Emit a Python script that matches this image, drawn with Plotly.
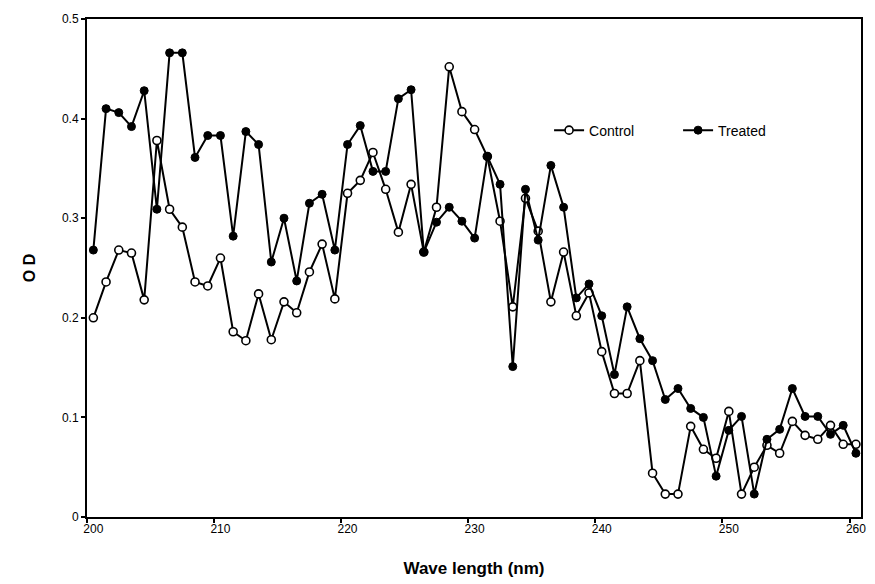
import plotly.graph_objects as go

wavelength = list(range(200, 261))
control = [0.200, 0.236, 0.268, 0.265, 0.218, 0.378, 0.309, 0.291, 0.236, 0.232,
           0.260, 0.186, 0.177, 0.224, 0.178, 0.216, 0.205, 0.246, 0.274, 0.219,
           0.325, 0.338, 0.366, 0.329, 0.286, 0.334, 0.266, 0.311, 0.452, 0.407,
           0.389, 0.362, 0.297, 0.211, 0.320, 0.287, 0.216, 0.266, 0.202, 0.225,
           0.166, 0.124, 0.124, 0.157, 0.044, 0.023, 0.023, 0.091, 0.068, 0.059,
           0.106, 0.023, 0.050, 0.072, 0.064, 0.096, 0.082, 0.078, 0.092, 0.073, 0.073]
treated = [0.268, 0.410, 0.406, 0.392, 0.428, 0.309, 0.466, 0.466, 0.361, 0.383,
           0.383, 0.282, 0.387, 0.374, 0.256, 0.300, 0.237, 0.315, 0.324, 0.268,
           0.374, 0.393, 0.347, 0.347, 0.420, 0.429, 0.266, 0.296, 0.311, 0.297,
           0.280, 0.362, 0.334, 0.151, 0.329, 0.278, 0.353, 0.311, 0.220, 0.234,
           0.202, 0.143, 0.211, 0.179, 0.157, 0.118, 0.129, 0.109, 0.100, 0.041,
           0.087, 0.101, 0.023, 0.078, 0.088, 0.129, 0.101, 0.101, 0.083, 0.092, 0.064]
x_ticks = [200, 210, 220, 230, 240, 250, 260]
y_ticks = [0, 0.1, 0.2, 0.3, 0.4, 0.5]
y_tick_text = ["0", "0.1", "0.2", "0.3", "0.4", "0.5"]

fig = go.Figure()
fig.add_trace(go.Scatter(
    x=wavelength, y=control, name="Control", mode="lines+markers",
    line=dict(color="black", width=2),
    marker=dict(symbol="circle", size=8, color="white", line=dict(color="black", width=1.6)),
))
fig.add_trace(go.Scatter(
    x=wavelength, y=treated, name="Treated", mode="lines+markers",
    line=dict(color="black", width=2),
    marker=dict(symbol="circle", size=8, color="black", line=dict(color="black", width=1)),
))

fig.update_layout(
    width=875, height=584,
    margin=dict(l=87, r=9, t=19, b=66),
    paper_bgcolor="white", plot_bgcolor="white",
    font=dict(family="Liberation Sans, Arial, sans-serif", color="black", size=12),
    showlegend=True,
    legend=dict(orientation="h", x=0.597, y=0.776, xanchor="left", yanchor="middle",
                font=dict(size=14), bgcolor="rgba(0,0,0,0)", itemwidth=30,
                entrywidth=84, entrywidthmode="pixels", tracegroupgap=0),
    xaxis=dict(
        range=[199.5, 260.4], tickvals=x_ticks, ticktext=[str(v) for v in x_ticks],
        ticks="", showgrid=False, zeroline=False,
        showline=True, linecolor="black", linewidth=2, mirror=True,
        tickfont=dict(size=12),
        minor=dict(tickvals=[v - 0.5 for v in x_ticks], ticks="outside", ticklen=4,
                   tickcolor="black", tickwidth=1.5, showgrid=False),
        title=dict(text="<b>Wave length (nm)</b>", font=dict(size=17), standoff=27),
    ),
    yaxis=dict(
        range=[0, 0.5], tickvals=y_ticks, ticktext=y_tick_text,
        ticks="outside", ticklen=4, tickwidth=1.5, tickcolor="black",
        showgrid=False, zeroline=False,
        showline=True, linecolor="black", linewidth=2, mirror=True,
        tickfont=dict(size=12),
        title=dict(text="<b>O D</b>", font=dict(size=16), standoff=22),
    ),
)

fig.write_html("out.html")
